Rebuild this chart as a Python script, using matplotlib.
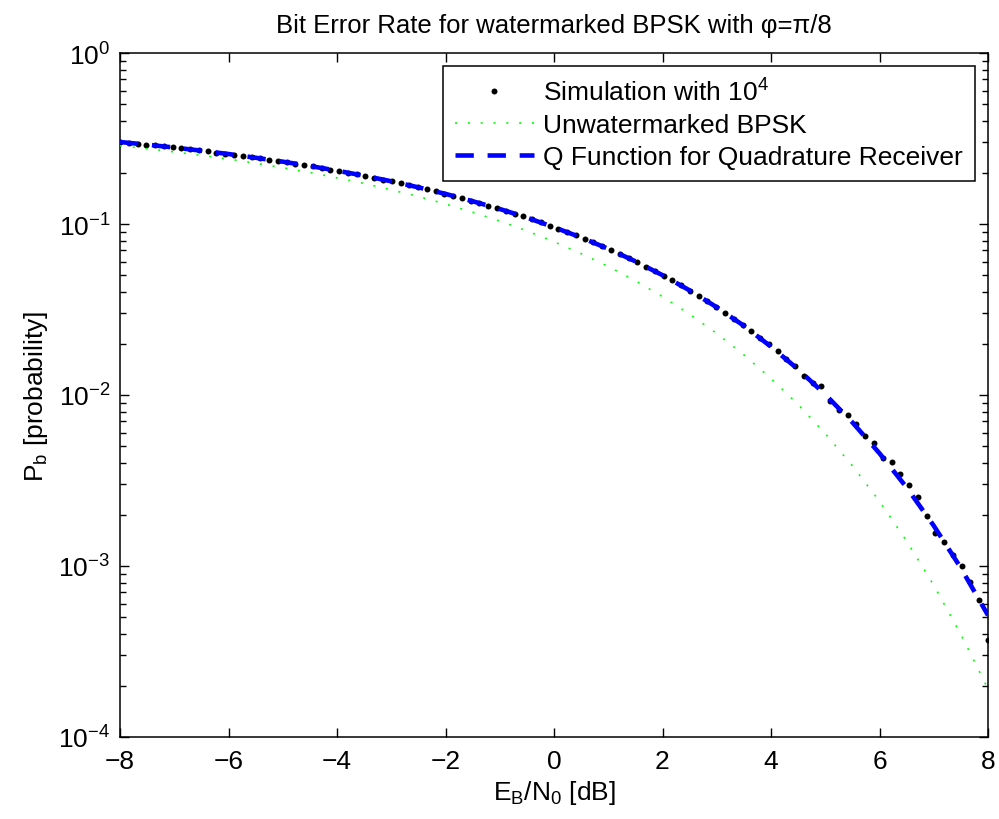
import numpy as np
import matplotlib
matplotlib.use('Agg')
import matplotlib.pyplot as plt

plt.rcParams['font.family'] = ['Liberation Sans', 'DejaVu Sans']
plt.rcParams['mathtext.fontset'] = 'custom'
plt.rcParams['mathtext.rm'] = 'Liberation Sans'
plt.rcParams['mathtext.it'] = 'Liberation Sans'

# Eb/N0 grid used for the analytic curves (dB)
curve_x = np.linspace(-8, 8, 33)

# Unwatermarked BPSK
unw = [0.2870, 0.2755, 0.2641, 0.2520, 0.2394, 0.2267, 0.2133, 0.2001,
       0.1862, 0.1726, 0.1584, 0.1448, 0.1309, 0.1172, 0.1040, 0.0912,
       0.0787, 0.0671, 0.0564, 0.0466, 0.0376, 0.0297, 0.0229, 0.01716,
       0.01248, 0.00879, 0.00595, 0.00386, 0.00239, 0.00140, 0.000772,
       0.000398, 0.000191]

# Q function for quadrature receiver (blue dashed curve)
qfun = [0.3016, 0.2911, 0.2799, 0.2684, 0.2566, 0.2440, 0.2315, 0.2184,
        0.2051, 0.1915, 0.1778, 0.1638, 0.1500, 0.1359, 0.1224, 0.1090,
        0.0957, 0.0834, 0.0716, 0.0605, 0.0502, 0.0409, 0.0326, 0.0254,
        0.01917, 0.01413, 0.01007, 0.00692, 0.00456, 0.00288, 0.00172,
        0.000974, 0.000515]

# Simulation points (100 SNR values from -8 to 8 dB)
sim_x = np.linspace(-8, 8, 100)
sim = [0.3016, 0.2982, 0.2948, 0.2914, 0.2878, 0.2842, 0.2806, 0.2769,
       0.2732, 0.2694, 0.2657, 0.2618, 0.2580, 0.2541, 0.2500, 0.2459,
       0.2419, 0.2378, 0.2338, 0.2296, 0.2254, 0.2212, 0.2169, 0.2126,
       0.2083, 0.2040, 0.1996, 0.1952, 0.1908, 0.1864, 0.1820, 0.1775,
       0.1730, 0.1685, 0.1639, 0.1595, 0.1550, 0.1506, 0.1460, 0.1415,
       0.1369, 0.1325, 0.1281, 0.1238, 0.1194, 0.1151, 0.1108, 0.1064,
       0.1021, 0.0979, 0.0937, 0.0897, 0.0858, 0.0818, 0.0780, 0.0742,
       0.0705, 0.0669, 0.0633, 0.0598, 0.0564, 0.0531, 0.0498, 0.0468,
       0.0438, 0.0408, 0.0381, 0.0355, 0.0328, 0.0303, 0.0279, 0.0257,
       0.0238, 0.0215, 0.0199, 0.0180, 0.01613, 0.0147, 0.0129, 0.01178,
       0.0113, 0.00927, 0.00817, 0.00764, 0.00677, 0.00578, 0.00524,
       0.00431, 0.00407, 0.00345, 0.00299, 0.00252, 0.00197, 0.00156,
       0.00138, 0.00116, 0.00100, 0.00081, 0.000633, 0.00037]

fig = plt.figure(figsize=(9.99, 8.2), dpi=100)
ax = fig.add_axes([120 / 999, 82 / 820, 868 / 999, 684 / 820])

ax.semilogy(sim_x, sim, 'o', color='k', markersize=4.3, markeredgewidth=0,
            label='Simulation with 10$^\\mathregular{4}$', zorder=2)
ax.semilogy(curve_x, unw, color=(0, 1, 0), linewidth=1.2,
            linestyle=(0, (1.2, 6.5)), label='Unwatermarked BPSK', zorder=3)
ax.semilogy(curve_x, qfun, color=(0, 0, 1), linewidth=3.3,
            linestyle=(0, (4.0, 3.0)),
            label='Q Function for Quadrature Receiver', zorder=4)

ax.set_xlim(-8, 8)
ax.set_ylim(1e-4, 1)
ax.set_xticks(np.arange(-8, 9, 2))
ax.set_xticklabels(['\u22128', '\u22126', '\u22124', '\u22122', '0', '2', '4', '6', '8'])

ax.tick_params(which='both', direction='in', top=True, right=True,
               labelsize=19, width=1, colors='k')
ax.tick_params(which='major', length=6.5)
ax.tick_params(axis='x', which='major', pad=9)
ax.tick_params(axis='y', which='major', pad=7)
ax.tick_params(which='minor', length=4.3)
for s in ax.spines.values():
    s.set_linewidth(1.1)

ax.set_title('Bit Error Rate for watermarked BPSK with \u03c6=\u03c0/8',
             fontsize=18.5, pad=15)
ax.set_xlabel('E$_\\mathregular{B}$/N$_\\mathregular{0}$ [dB]', fontsize=19, labelpad=3)
ax.set_ylabel('P$_\\mathregular{b}$ [probability]', fontsize=19, labelpad=6)

leg = ax.legend(loc='upper right', fontsize=19, fancybox=False, framealpha=1,
                edgecolor='k', handlelength=3.0, borderaxespad=0.5,
                labelspacing=0.3, borderpad=0.45, handletextpad=0.35)
leg.get_frame().set_linewidth(1.1)

fig.savefig('out.png', dpi=100)
